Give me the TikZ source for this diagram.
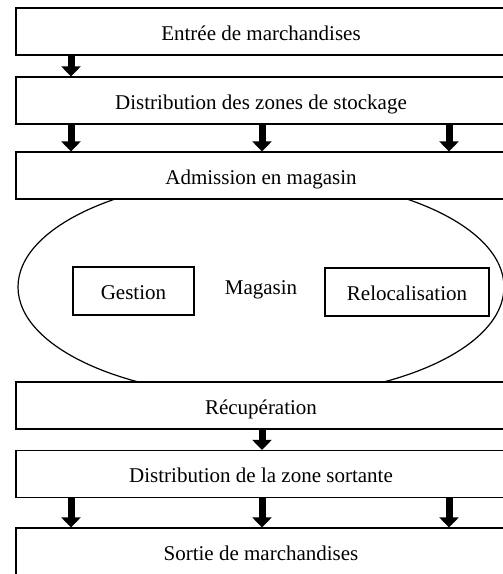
\documentclass[tikz,border=0pt]{standalone}
\usepackage{fontspec}
\setmainfont{Liberation Serif}
\usetikzlibrary{arrows.meta,shapes.geometric}
\tikzset{
  box/.style={draw=black, fill=white, line width=1.2pt, rectangle, inner sep=0pt,
    minimum width=490pt, minimum height=47pt, text height=17pt, text depth=0pt,
    font=\fontsize{21pt}{25pt}\selectfont},
  smallbox/.style={draw=black, fill=white, line width=1.2pt, rectangle, inner sep=0pt,
    minimum height=48pt, text height=16pt, text depth=0pt,
    font=\fontsize{21pt}{25pt}\selectfont},
  blockarrow/.style={line width=7pt, -{Triangle[width=19pt,length=10pt]}},
  magell/.style={draw=black, line width=1.2pt, ellipse, inner sep=0pt,
    minimum width=486pt, minimum height=220pt},
  plain/.style={inner sep=0pt, text height=17pt, text depth=0pt,
    font=\fontsize{21pt}{25pt}\selectfont}
}
\begin{document}
\begin{tikzpicture}[x=1pt,y=-1pt]
\useasboundingbox (0,0) rectangle (503,574);
\clip (0,0) rectangle (503,574);
\fill[white] (0,0) rectangle (503,574);
% ellipse behind boxes
\node[magell] (mag) at (261,287) {};
% boxes
\node[box] (b1) at (261,31.5) {Entrée de marchandises};
\node[box] (b2) at (261,100.5) {Distribution des zones de stockage};
\node[box] (b3) at (261,175.5) {Admission en magasin};
\node[box] (b4) at (261,405.5) {Récupération};
\node[box] (b5) at (261,474) {Distribution de la zone sortante};
\node[box] (b6) at (261,551.5) {Sortie de marchandises};
% inside ellipse
\node[smallbox, minimum width=121pt] (ges) at (133.5,291) {Gestion};
\node[smallbox, minimum width=164pt] (rel) at (407,292) {Relocalisation};
\node[plain] (magtxt) at (261,286) {Magasin};
% arrow columns
\coordinate (xl) at (71,0);
\coordinate (xm) at (262,0);
\coordinate (xr) at (449,0);
\draw[blockarrow] (b1.south -| xl) -- (b2.north -| xl);
\draw[blockarrow] (b2.south -| xl) -- (b3.north -| xl);
\draw[blockarrow] (b2.south -| xm) -- (b3.north -| xm);
\draw[blockarrow] (b2.south -| xr) -- (b3.north -| xr);
\draw[blockarrow] (b4.south -| xm) -- (b5.north -| xm);
\draw[blockarrow] (b5.south -| xl) -- (b6.north -| xl);
\draw[blockarrow] (b5.south -| xm) -- (b6.north -| xm);
\draw[blockarrow] (b5.south -| xr) -- (b6.north -| xr);
\end{tikzpicture}
\end{document}
